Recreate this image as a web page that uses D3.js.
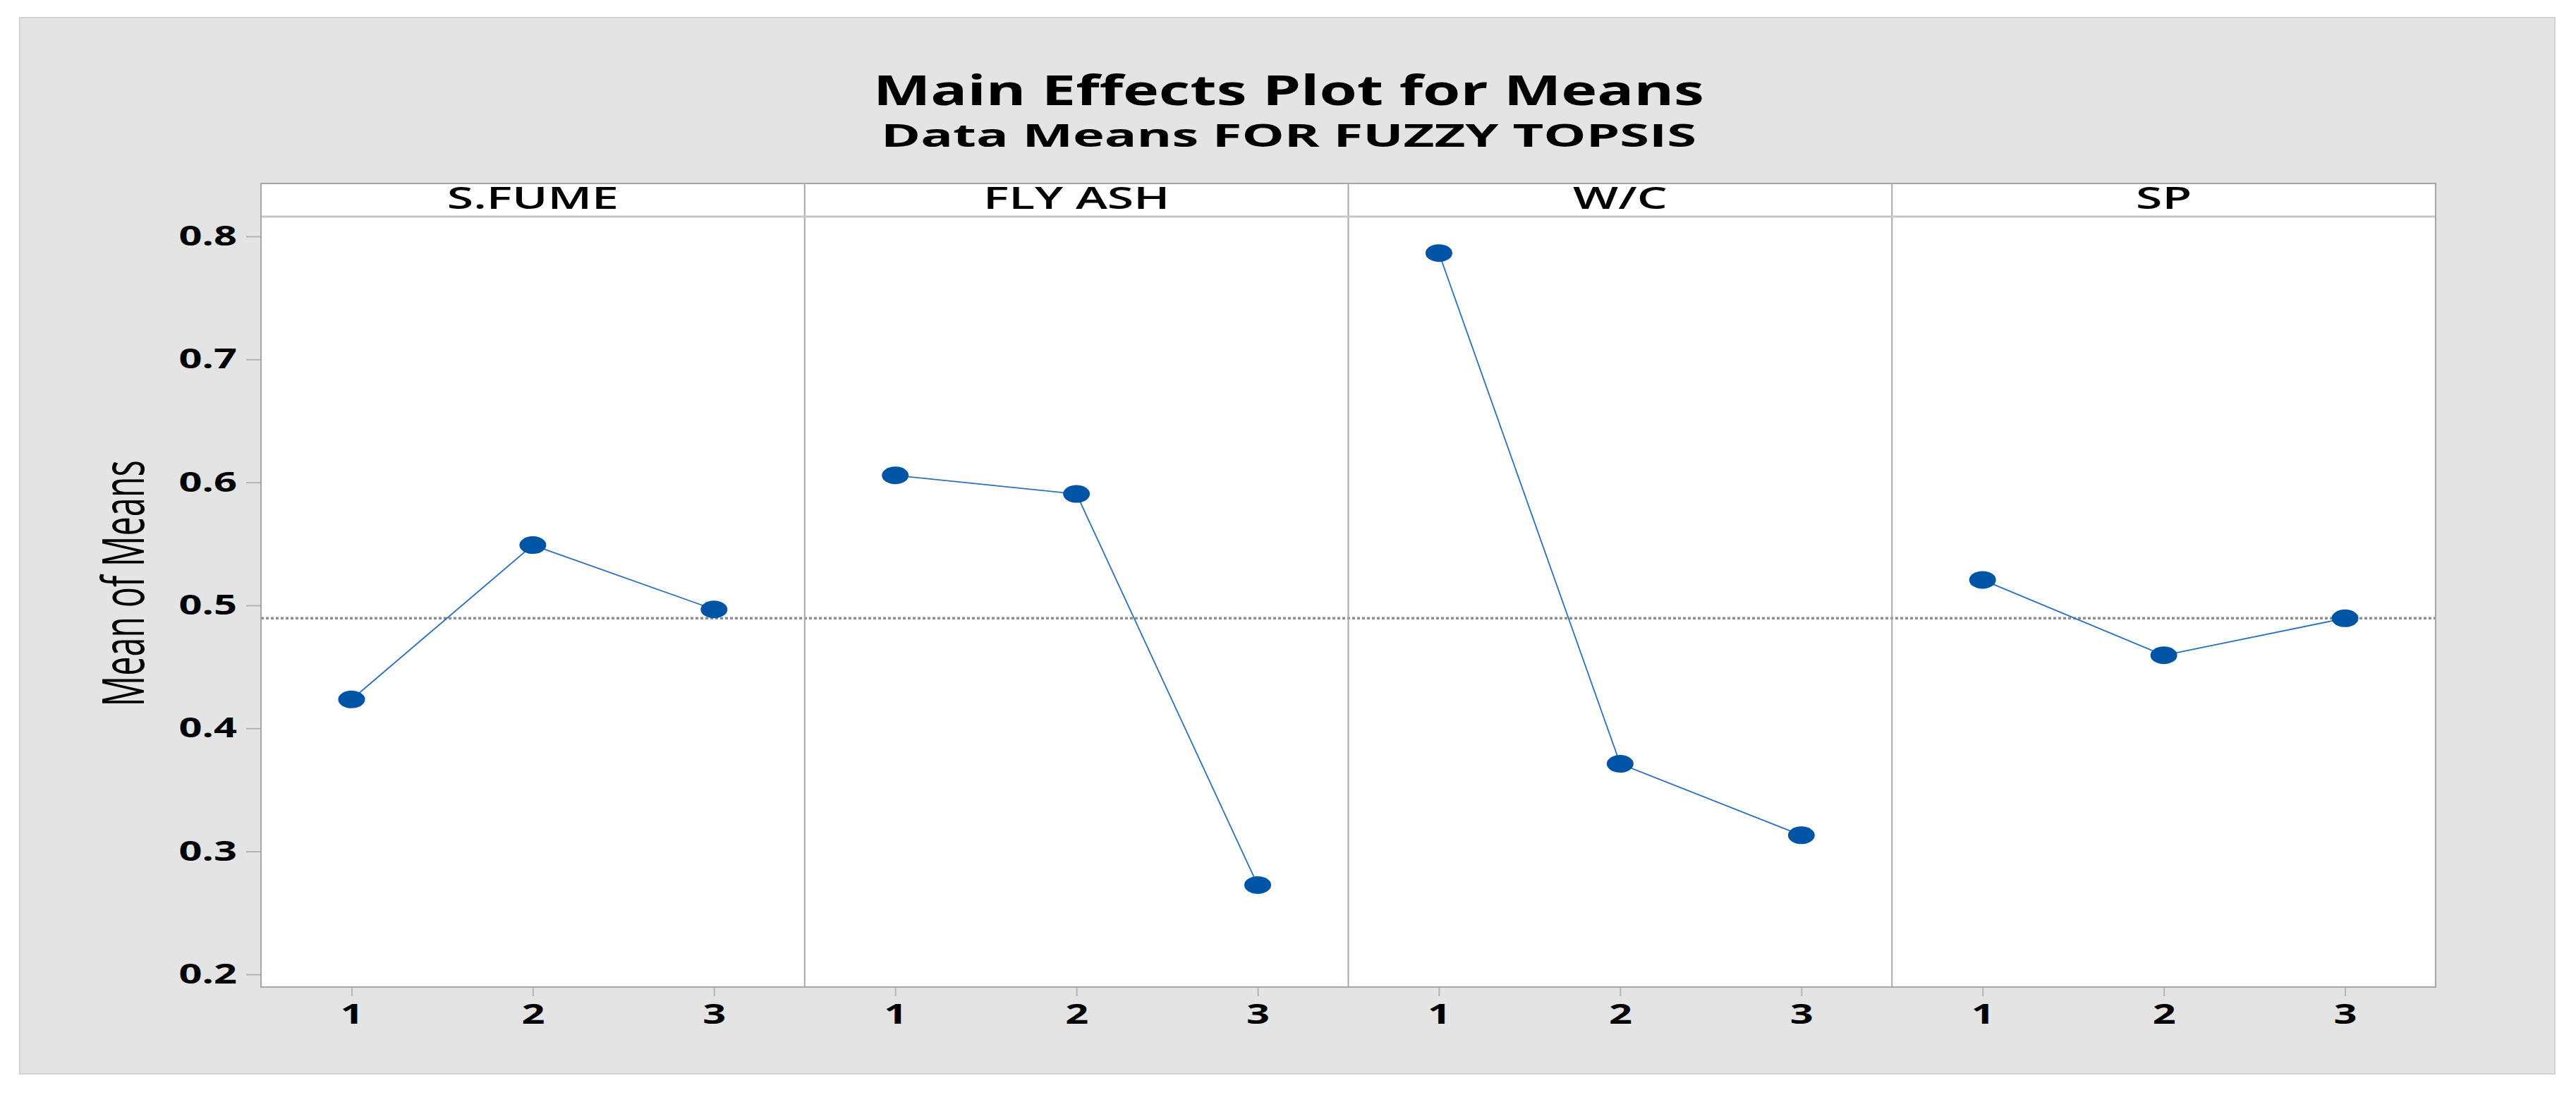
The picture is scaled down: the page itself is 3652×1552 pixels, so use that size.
<!DOCTYPE html>
<html>
<head>
<meta charset="utf-8">
<script src="https://cdn.jsdelivr.net/npm/d3@7"></script>
<style>
  body { margin: 0; background: #fff; }
  svg { display: block; }
  text { font-family: "Open Sans", "Noto Sans", sans-serif; fill: #000; }
</style>
</head>
<body>
<div id="chart"></div>
<script>
const width = 3652;
const height = 1552;

// data
const factors = ["S.FUME", "FLY ASH", "W/C", "SP"];
const levels = [1, 2, 3];
const sfumeMeans = [0.4235, 0.549, 0.4967];
const flyAshMeans = [0.6057, 0.5906, 0.2726];
const wcMeans = [0.7864, 0.3712, 0.3131];
const spMeans = [0.5207, 0.4594, 0.4895];
const grandMean = 0.4896;
const yTicks = [0.2, 0.3, 0.4, 0.5, 0.6, 0.7, 0.8];

const titleText = "Main Effects Plot for Means";
const subtitleText = "Data Means FOR FUZZY TOPSIS";
const yLabelText = "Mean of Means";

const seriesByFactor = [sfumeMeans, flyAshMeans, wcMeans, spMeans];

// the picture is stretched sideways, so text and markers are too
const stretchX = 1.5;

const plot = { left: 370, right: 3453, stripTop: 260, top: 307, bottom: 1399 };

const svg = d3
  .select("#chart")
  .append("svg")
  .attr("width", width)
  .attr("height", height);

// gray figure background
svg
  .append("rect")
  .attr("x", 28)
  .attr("y", 25)
  .attr("width", 3594)
  .attr("height", 1497)
  .attr("fill", "#e4e4e4")
  .attr("stroke", "#d2d2d2")
  .attr("stroke-width", 2);

function stretch(sel, k) {
  sel.each(function () {
    const w = this.getComputedTextLength();
    d3.select(this)
      .attr("textLength", w * k)
      .attr("lengthAdjust", "spacingAndGlyphs");
  });
}

// titles
svg
  .append("text")
  .attr("x", 1827)
  .attr("y", 149)
  .attr("text-anchor", "middle")
  .style("font-size", "59px")
  .style("font-weight", 700)
  .text(titleText)
  .attr("textLength", 1178)
  .attr("lengthAdjust", "spacingAndGlyphs");

svg
  .append("text")
  .attr("x", 1827)
  .attr("y", 208)
  .attr("text-anchor", "middle")
  .style("font-size", "45px")
  .style("font-weight", 700)
  .text(subtitleText)
  .attr("textLength", 1156)
  .attr("lengthAdjust", "spacingAndGlyphs");

// scales
const yScale = d3.scaleLinear().domain([0.2, 0.8]).range([1381, 335]);

const panelScale = d3
  .scaleBand()
  .domain(factors)
  .range([plot.left, plot.right])
  .paddingInner(0)
  .paddingOuter(0);

const bw = panelScale.bandwidth();
const xScale = d3.scaleLinear().domain([0.5, 3.5]).range([0, bw]);

// plot area background
svg
  .append("rect")
  .attr("x", plot.left)
  .attr("y", plot.stripTop)
  .attr("width", plot.right - plot.left)
  .attr("height", plot.bottom - plot.stripTop)
  .attr("fill", "#fff");

// y axis
const yAxis = d3
  .axisLeft(yScale)
  .tickValues(yTicks)
  .tickSize(21)
  .tickPadding(13)
  .tickFormat(d3.format(".1f"));

const yAxisG = svg
  .append("g")
  .attr("transform", `translate(${plot.left}, 0)`)
  .call(yAxis);
yAxisG.select(".domain").remove();
yAxisG.selectAll(".tick line").attr("stroke", "#b4b4b4").attr("stroke-width", 2);
yAxisG
  .selectAll(".tick text")
  .attr("fill", "#000")
  .style("font-family", '"Open Sans", sans-serif')
  .style("font-size", "39px")
  .style("font-weight", 700)
  .call(stretch, 1.48);

// y label
svg
  .append("text")
  .attr("transform", `translate(204, 827) scale(${stretchX}, 1) rotate(-90)`)
  .attr("text-anchor", "middle")
  .style("font-size", "55px")
  .style("font-weight", 500)
  .text(yLabelText)
  .attr("textLength", 349)
  .attr("lengthAdjust", "spacingAndGlyphs");

// mean reference line across all panels
svg
  .append("line")
  .attr("x1", plot.left)
  .attr("x2", plot.right)
  .attr("y1", yScale(grandMean))
  .attr("y2", yScale(grandMean))
  .attr("stroke", "#8e8e8e")
  .attr("stroke-width", 3.5)
  .attr("stroke-dasharray", "4,3");

const line = d3
  .line()
  .x((d, i) => xScale(levels[i]))
  .y((d) => yScale(d));

factors.forEach((f, k) => {
  const x0 = panelScale(f);
  const g = svg.append("g").attr("transform", `translate(${x0}, 0)`);

  // strip label
  g.append("text")
    .attr("x", bw / 2)
    .attr("y", 296)
    .attr("text-anchor", "middle")
    .style("font-size", "43px")
    .style("font-weight", 600)
    .text(f)
    .call(stretch, 1.58);

  // x axis for this panel
  const xAxis = d3
    .axisBottom(xScale)
    .tickValues(levels)
    .tickSize(13)
    .tickPadding(11)
    .tickFormat(d3.format("d"));

  const xg = g
    .append("g")
    .attr("transform", `translate(0, ${plot.bottom})`)
    .call(xAxis);
  xg.select(".domain").remove();
  xg.selectAll(".tick line").attr("stroke", "#b4b4b4").attr("stroke-width", 2);
  xg.selectAll(".tick text")
    .attr("fill", "#000")
    .style("font-family", '"Open Sans", sans-serif')
    .style("font-size", "39px")
    .style("font-weight", 700)
    .call(stretch, 1.48);

  const data = seriesByFactor[k];

  g.append("path")
    .datum(data)
    .attr("d", line)
    .attr("fill", "none")
    .attr("stroke", "#2a6fc0")
    .attr("stroke-width", 1.8);

  g.selectAll("ellipse")
    .data(data)
    .enter()
    .append("ellipse")
    .attr("cx", (d, i) => xScale(levels[i]))
    .attr("cy", (d) => yScale(d))
    .attr("rx", 19)
    .attr("ry", 12.5)
    .attr("fill", "#0054a6");
});

// panel dividers
svg
  .selectAll("line.divider")
  .data(factors.slice(1))
  .enter()
  .append("line")
  .attr("class", "divider")
  .attr("x1", (d) => panelScale(d))
  .attr("x2", (d) => panelScale(d))
  .attr("y1", plot.stripTop)
  .attr("y2", plot.bottom)
  .attr("stroke", "#a8a8a8")
  .attr("stroke-width", 2);

// strip bottom line
svg
  .append("line")
  .attr("x1", plot.left)
  .attr("x2", plot.right)
  .attr("y1", plot.top)
  .attr("y2", plot.top)
  .attr("stroke", "#c8c8c8")
  .attr("stroke-width", 3);

// outer frame
svg
  .append("rect")
  .attr("x", plot.left)
  .attr("y", plot.stripTop)
  .attr("width", plot.right - plot.left)
  .attr("height", plot.bottom - plot.stripTop)
  .attr("fill", "none")
  .attr("stroke", "#a6a6a6")
  .attr("stroke-width", 2);
</script>
</body>
</html>
